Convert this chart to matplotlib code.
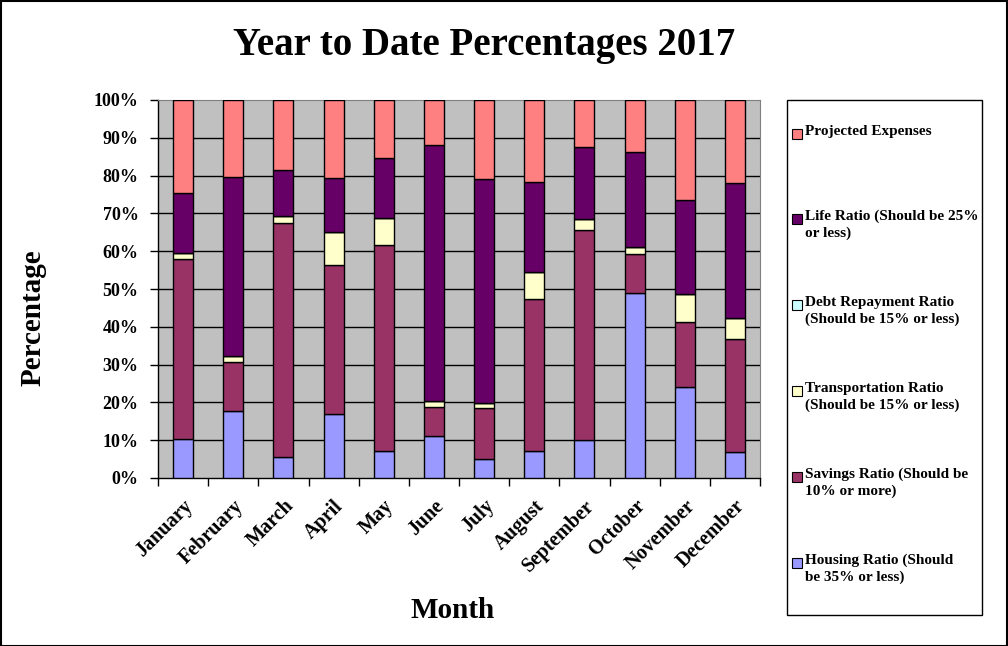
import matplotlib
matplotlib.use("Agg")
import matplotlib.pyplot as plt
from matplotlib.patches import Rectangle
import numpy as np

months = ["January", "February", "March", "April", "May", "June", "July",
          "August", "September", "October", "November", "December"]

housing = [10.3, 17.7, 5.6, 17.0, 7.1, 11.0, 5.1, 7.2, 10.1, 48.9, 24.1, 6.9]
savings = [47.6, 13.0, 61.8, 39.3, 54.6, 7.8, 13.4, 40.1, 55.5, 10.4, 17.1, 29.8]
transport = [1.6, 1.5, 1.8, 8.9, 7.0, 1.5, 1.3, 7.3, 2.9, 1.8, 7.4, 5.6]
debt = [0, 0, 0, 0, 0, 0, 0, 0, 0, 0, 0, 0]
life = [15.8, 47.4, 12.2, 14.1, 15.9, 67.7, 59.2, 23.8, 19.0, 25.1, 25.0, 35.7]
projected = [24.7, 20.4, 18.6, 20.7, 15.4, 12.0, 21.0, 21.6, 12.5, 13.8, 26.4, 22.0]

labels = ["Housing Ratio (Should\nbe 35% or less)",
          "Savings Ratio (Should be\n10% or more)",
          "Transportation Ratio\n(Should be 15% or less)",
          "Debt Repayment Ratio\n(Should be 15% or less)",
          "Life Ratio (Should be 25%\nor less)",
          "Projected Expenses"]
colors = ["#9999FF", "#993366", "#FFFFCC", "#CCFFFF", "#660066", "#FF8080"]

plt.rcParams['font.family'] = ['Liberation Serif', 'DejaVu Serif']
plt.rcParams['font.weight'] = 'bold'

fig = plt.figure(figsize=(10.08, 6.46), dpi=100)
W, H = 1008, 646
ax = fig.add_axes([158 / W, 1 - 478 / H, (760 - 158) / W, (478 - 100) / H])
ax.set_facecolor("#C0C0C0")

series = [housing, savings, transport, debt, life, projected]
x = np.arange(len(months))
bottom = np.zeros(len(months))
for vals, col in zip(series, colors):
    ax.bar(x, vals, 0.4, bottom=bottom, color=col, edgecolor="black", linewidth=1, zorder=3)
    bottom += np.array(vals)

ax.set_xlim(-0.5, 11.5)
ax.set_ylim(0, 100)
ax.set_yticks(np.arange(0, 101, 10))
ax.set_yticklabels([f"{v}%" for v in range(0, 101, 10)], fontsize=13, fontweight='bold')
for v in range(10, 100, 10):
    ax.axhline(v, color="black", linewidth=1, zorder=1)

ax.set_xticks(x)
ax.set_xticklabels(months, rotation=45, ha='right', va='top', rotation_mode='anchor',
                   fontsize=14.5, fontweight='bold')
ax.tick_params(axis='x', which='major', length=0, pad=13)
ax.set_xticks(np.arange(-0.5, 12, 1), minor=True)
ax.tick_params(axis='x', which='minor', length=6, width=1, direction='out')
ax.tick_params(axis='y', length=6, width=1, direction='out', pad=8)

for s in ['top', 'right']:
    ax.spines[s].set_color("#808080")
for s in ['left', 'bottom']:
    ax.spines[s].set_color("black")
    ax.spines[s].set_linewidth(1)

fig.text(484 / W, 1 - 45 / H, "Year to Date Percentages 2017", ha='center', va='center',
         fontsize=28, fontweight='bold')
fig.text(33 / W, 1 - 318 / H, "Percentage", rotation=90, ha='center', va='center',
         fontsize=21, fontweight='bold')
fig.text(453 / W, 1 - 611 / H, "Month", ha='center', va='center',
         fontsize=21, fontweight='bold')

# legend box
fig.patches.append(Rectangle((787 / W, 1 - 615 / H), (982 - 787) / W, (615 - 100) / H,
                             transform=fig.transFigure, facecolor='white',
                             edgecolor='black', linewidth=1))
entry_y = [563, 477, 391, 305, 219, 134]
for lab, col, yy in zip(labels, colors, entry_y):
    fig.patches.append(Rectangle((792 / W, 1 - (yy + 5) / H), 10 / W, 10 / H,
                                 transform=fig.transFigure, facecolor=col,
                                 edgecolor='black', linewidth=0.8))
    fig.text(805 / W, 1 - (yy - 9) / H, lab, ha='left', va='top', fontsize=11,
             fontweight='bold', linespacing=1.3)

# outer border
fig.patches.append(Rectangle((0.5 / W, 0.5 / H), 1 - 1.5 / W, 1 - 1.5 / H,
                             transform=fig.transFigure, fill=False,
                             edgecolor='black', linewidth=1.5))

fig.savefig("out.png", dpi=100)
